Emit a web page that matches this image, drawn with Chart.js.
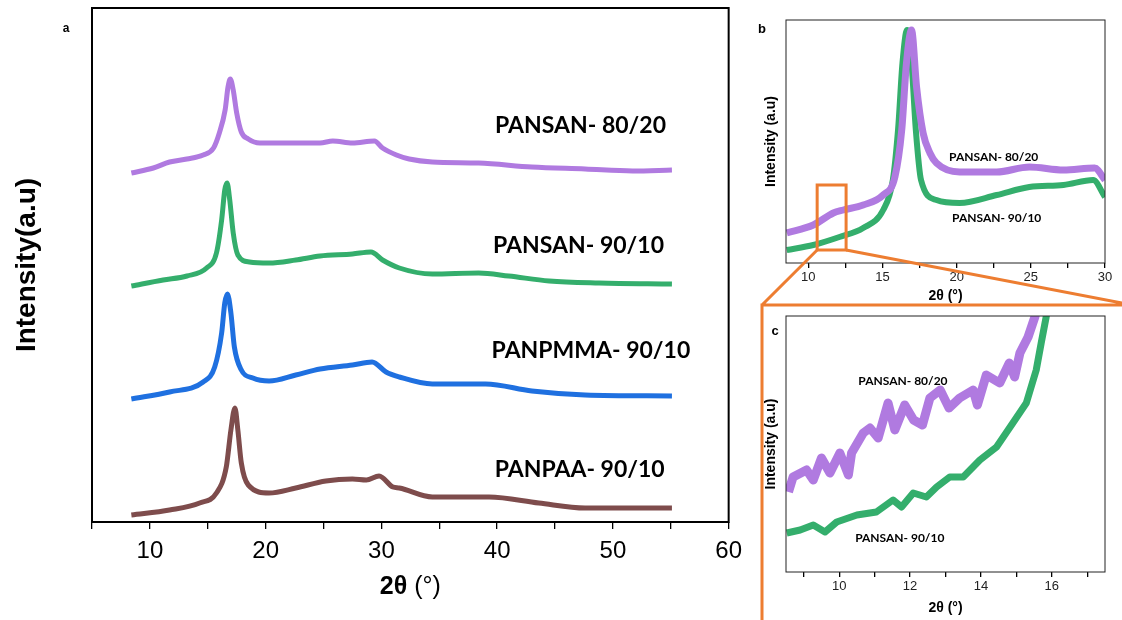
<!DOCTYPE html>
<html>
<head>
<meta charset="utf-8">
<script src="https://cdn.jsdelivr.net/npm/chart.js@4.4.1/dist/chart.umd.min.js"></script>
<style>
  body { margin: 0; background: #fff; width: 1122px; height: 620px; overflow: hidden; position: relative; }
  canvas { position: absolute; }
</style>
</head>
<body>
<canvas id="chartA" width="750" height="620" style="left:0;top:0"></canvas>
<canvas id="chartB" width="372" height="305" style="left:750px;top:0"></canvas>
<canvas id="chartC" width="372" height="313" style="left:750px;top:307px"></canvas>
<canvas id="overlay" width="1122" height="620" style="left:0;top:0;pointer-events:none"></canvas>
<script>
// ---- panel a : full scans, stacked (a.u.) ----
var angA80 = [8.4, 10.3, 11.7, 13.2, 14.6, 15.5, 16.0, 16.5, 16.75, 16.95, 17.2, 17.5, 17.9, 18.5, 19.5, 21.8, 24.7, 25.8, 27.5, 29.4, 30.1, 31.3, 32.4, 34.4, 38.4, 43.0, 47.6, 51.7, 55.1];
var intA80 = [349, 354, 360, 363, 367, 374, 389, 412, 435, 443, 432, 409, 390, 383, 379, 379, 379, 381, 379, 381, 374, 367, 363, 360, 359, 355, 353, 351, 352];
var angA90 = [8.4, 11.15, 13.2, 14.9, 15.75, 16.2, 16.47, 16.67, 16.9, 17.2, 17.6, 18.6, 20.3, 22.6, 24.7, 27.5, 29.1, 30.1, 31.55, 34.4, 38.4, 41.0, 44.5, 48.8, 55.1];
var intA90 = [236, 242, 246, 254, 269, 302, 332, 339, 322, 289, 267, 260, 259, 262, 266, 268, 270, 262, 254, 248, 249, 246, 241, 239, 238];
var angPMMA = [8.4, 11.7, 14.6, 15.6, 16.2, 16.47, 16.7, 17.0, 17.3, 17.9, 18.9, 20.3, 22.6, 24.7, 27.5, 29.2, 30.4, 31.55, 34.4, 39.0, 43.0, 47.6, 55.1];
var intPMMA = [123, 130, 140, 155, 189, 219, 228, 209, 175, 152, 144, 141, 147, 153, 157, 160, 150, 145, 138, 138, 131, 127, 126];
var angPAA = [8.4, 11.7, 14.3, 15.75, 16.6, 17.0, 17.35, 17.6, 17.9, 18.5, 20.3, 22.6, 25.2, 27.5, 28.7, 29.8, 31.0, 31.55, 34.4, 39.3, 43.6, 47.6, 55.1];
var intPAA = [7, 12, 19, 29, 55, 92, 114, 92, 59, 37, 29, 34, 41, 43, 42, 46, 35, 34, 25, 25, 19, 14, 14];
var namesA = ["PANSAN- 80/20", "PANSAN- 90/10", "PANPMMA- 90/10", "PANPAA- 90/10"];
var labelAngA = [47.2, 47.03, 48.1, 47.13];
var labelIntA = [396, 276, 171, 52];
var ticksA = [5, 10, 15, 20, 25, 30, 35, 40, 45, 50, 55, 60];
var tickLabelsA = ["", "10", "", "20", "", "30", "", "40", "", "50", "", "60"];

// ---- panel b : 8.5 - 30 deg ----
var angB80 = [8.55, 10.34, 11.69, 12.36, 13.7, 15.05, 15.84, 16.3, 16.62, 16.96, 17.3, 17.74, 18.2, 18.64, 20.2, 22.7, 24.9, 27.2, 29.3, 30];
var intB80 = [30, 38, 50, 53, 58, 68, 86, 133, 200, 233, 176, 130, 110, 100, 91, 91, 96, 93, 95, 83];
var angB90 = [8.55, 10.34, 12.1, 13.7, 15.05, 15.7, 16.05, 16.35, 16.66, 16.96, 17.25, 17.6, 18.64, 20.2, 22.7, 24.9, 27.2, 29.2, 30];
var intB90 = [13, 18, 26, 35, 53, 83, 133, 200, 233, 200, 133, 83, 63, 60, 68, 76, 78, 83, 66];
var labelAngB = [22.5, 22.7];
var labelIntB = [106, 45];
var zoomBoxAng = [10.6, 12.55];
var zoomBoxInt = [13, 78];
var ticksB = [10, 12.5, 15, 17.5, 20, 22.5, 25, 27.5, 30];
var tickLabelsB = ["10", "", "15", "", "20", "", "25", "", "30"];

// ---- panel c : 8.5 - 17.5 deg ----
var angC80 = [8.57, 8.7, 9.08, 9.27, 9.5, 9.74, 10.02, 10.26, 10.35, 10.68, 10.87, 11.1, 11.38, 11.57, 11.85, 12.1, 12.35, 12.56, 12.85, 13.1, 13.4, 13.78, 13.9, 14.15, 14.53, 14.8, 14.95, 15.1, 15.33, 15.52, 15.65];
var intC80 = [80, 95, 102, 92, 114, 99, 119, 97, 119, 139, 144, 134, 169, 142, 167, 152, 147, 174, 182, 164, 174, 182, 167, 197, 189, 209, 195, 219, 235, 255, 275];
var angC90 = [8.52, 8.9, 9.27, 9.6, 9.93, 10.5, 11.05, 11.52, 11.76, 12.09, 12.46, 12.75, 13.12, 13.5, 13.97, 14.44, 14.9, 15.28, 15.56, 15.7, 15.84, 15.95];
var intC90 = [39, 42, 47, 40, 50, 57, 60, 72, 65, 79, 75, 85, 95, 95, 112, 125, 149, 169, 202, 229, 255, 280];
var labelAngC = [11.8, 11.71];
var labelIntC = [191, 34];
var ticksC = [9, 10, 11, 12, 13, 14, 15, 16, 17];
var tickLabelsC = ["", "10", "", "12", "", "14", "", "16", ""];

var purple = "#B07AE0";
var green = "#34AE6C";
var blue = "#1F70E0";
var brown = "#7E4C4C";
var orange = "#ED7D31";

Chart.defaults.font.family = "'Liberation Sans', Arial, sans-serif";
Chart.defaults.color = "#000";

function pts(xs, ys) {
  var out = [];
  for (var i = 0; i < xs.length; i++) out.push({ x: xs[i], y: ys[i] });
  return out;
}

function series(xs, ys, color, width, smooth) {
  var ds = {
    data: pts(xs, ys),
    borderColor: color,
    backgroundColor: color,
    borderWidth: width,
    pointRadius: 0,
    borderJoinStyle: "round",
    clip: 0
  };
  if (smooth) ds.cubicInterpolationMode = "monotone";
  else ds.tension = 0;
  return ds;
}

// box around the plot, panel letter, 2θ title and text labels
function panelPlugin(cfg) {
  return {
    id: "panel_" + cfg.letter,
    afterDatasetsDraw: function (chart) {
      var ctx = chart.ctx, a = chart.chartArea;
      var xs = chart.scales.x, ys = chart.scales.y;
      ctx.save();
      ctx.strokeStyle = cfg.frameColor;
      ctx.lineWidth = cfg.frameWidth;
      ctx.strokeRect(a.left, a.top, a.right - a.left, a.bottom - a.top);

      ctx.fillStyle = "#000";
      ctx.textBaseline = "middle";
      ctx.textAlign = "center";
      ctx.font = "bold " + cfg.labelSize + "px Lato, 'Open Sans', sans-serif";
      for (var i = 0; i < cfg.names.length; i++) {
        ctx.fillText(cfg.names[i], xs.getPixelForValue(cfg.labelAng[i]), ys.getPixelForValue(cfg.labelInt[i]));
      }

      ctx.font = "bold " + cfg.letterSize + "px 'Liberation Sans', Arial, sans-serif";
      ctx.fillText(cfg.letter, cfg.letterPos[0], cfg.letterPos[1]);

      var cx = (a.left + a.right) / 2;
      var fb = "bold " + cfg.titleSize + "px 'Liberation Sans', Arial, sans-serif";
      var fr = cfg.titleRegular + " " + cfg.titleSize + "px 'Liberation Sans', Arial, sans-serif";
      ctx.font = fb;
      var w1 = ctx.measureText("2θ").width;
      ctx.font = fr;
      var w2 = ctx.measureText(" (°)").width;
      var x0 = cx - (w1 + w2) / 2;
      ctx.textAlign = "left";
      ctx.font = fb;
      ctx.fillText("2θ", x0, cfg.titleY);
      ctx.font = fr;
      ctx.fillText(" (°)", x0 + w1, cfg.titleY);

      if (cfg.zoomBox) {
        var l = xs.getPixelForValue(cfg.zoomBox.ang[0]), r = xs.getPixelForValue(cfg.zoomBox.ang[1]);
        var t = ys.getPixelForValue(cfg.zoomBox.int[1]), b = ys.getPixelForValue(cfg.zoomBox.int[0]);
        ctx.strokeStyle = orange;
        ctx.lineWidth = 3;
        ctx.strokeRect(l, t, r - l, b - t);
      }
      ctx.restore();
    }
  };
}

function xAxis(min, max, tickVals, tickLabels, fontSize, pad, height, tickLen, tickColor) {
  return {
    type: "linear",
    min: min,
    max: max,
    afterBuildTicks: function (s) {
      s.ticks = tickVals.map(function (v) { return { value: v }; });
    },
    afterFit: function (s) { s.height = height; },
    ticks: {
      autoSkip: false,
      maxRotation: 0,
      padding: pad,
      color: tickColor,
      font: { size: fontSize },
      callback: function (v, i) { return tickLabels[i]; }
    },
    grid: { drawOnChartArea: false, drawTicks: true, tickLength: tickLen, color: "#000", lineWidth: 1.3 },
    border: { display: false }
  };
}

function yAxis(max, title, size, width, titlePad) {
  return {
    min: 0,
    max: max,
    afterFit: function (s) { s.width = width; },
    ticks: { display: false },
    grid: { display: false },
    border: { display: false },
    title: { display: true, text: title, font: { size: size, weight: "bold" }, padding: { top: titlePad, bottom: 0 } }
  };
}

var baseOptions = {
  responsive: false,
  animation: false,
  plugins: { legend: { display: false }, tooltip: { enabled: false } }
};

var chartA = new Chart(document.getElementById("chartA"), {
  type: "line",
  data: {
    datasets: [
      series(angA80, intA80, purple, 5, true),
      series(angA90, intA90, green, 5, true),
      series(angPMMA, intPMMA, blue, 5, true),
      series(angPAA, intPAA, brown, 5, true)
    ]
  },
  options: Object.assign({}, baseOptions, {
    layout: { padding: { left: 0, top: 8, right: 20, bottom: 0 } },
    scales: {
      x: xAxis(5, 60, ticksA, tickLabelsA, 24, 8, 98, 7, "#000"),
      y: yAxis(514, "Intensity(a.u)", 28, 92, 10)
    }
  }),
  plugins: [panelPlugin({
    letter: "a", letterPos: [66, 29], letterSize: 12,
    names: namesA, labelAng: labelAngA, labelInt: labelIntA, labelSize: 23,
    frameColor: "#000", frameWidth: 2,
    titleSize: 25, titleY: 587, titleRegular: "normal"
  })]
});

var chartB = new Chart(document.getElementById("chartB"), {
  type: "line",
  data: {
    datasets: [
      series(angB80, intB80, purple, 7, true),
      series(angB90, intB90, green, 6, true)
    ]
  },
  options: Object.assign({}, baseOptions, {
    layout: { padding: { left: 0, top: 20, right: 17, bottom: 0 } },
    scales: {
      x: xAxis(8.5, 30, ticksB, tickLabelsB, 13, 2, 42, 5, "#222"),
      y: yAxis(243, "Intensity (a.u)", 14, 36, 12.6)
    }
  }),
  plugins: [panelPlugin({
    letter: "b", letterPos: [12, 29], letterSize: 13,
    names: ["PANSAN- 80/20", "PANSAN- 90/10"], labelAng: labelAngB, labelInt: labelIntB, labelSize: 12,
    frameColor: "#222", frameWidth: 1,
    titleSize: 14, titleY: 296, titleRegular: "bold",
    zoomBox: { ang: zoomBoxAng, int: zoomBoxInt }
  })]
});

var chartC = new Chart(document.getElementById("chartC"), {
  type: "line",
  data: {
    datasets: [
      series(angC80, intC80, purple, 9, false),
      series(angC90, intC90, green, 7, false)
    ]
  },
  options: Object.assign({}, baseOptions, {
    layout: { padding: { left: 0, top: 9, right: 17, bottom: 0 } },
    scales: {
      x: xAxis(8.5, 17.5, ticksC, tickLabelsC, 13, 2, 48, 5, "#222"),
      y: yAxis(256, "Intensity (a.u)", 14, 36, 12.3)
    }
  }),
  plugins: [panelPlugin({
    letter: "c", letterPos: [25, 24], letterSize: 13,
    names: ["PANSAN- 80/20", "PANSAN- 90/10"], labelAng: labelAngC, labelInt: labelIntC, labelSize: 12,
    frameColor: "#222", frameWidth: 1,
    titleSize: 14, titleY: 301, titleRegular: "bold"
  })]
});

// orange zoom connectors and frame round panel c
var ov = document.getElementById("overlay").getContext("2d");
var bx = chartB.scales.x, by = chartB.scales.y;
var boxL = 750 + bx.getPixelForValue(zoomBoxAng[0]);
var boxR = 750 + bx.getPixelForValue(zoomBoxAng[1]);
var boxB = by.getPixelForValue(zoomBoxInt[0]);
var frameL = 762, frameT = 305;
ov.strokeStyle = orange;
ov.lineWidth = 3;
ov.beginPath();
ov.moveTo(boxL, boxB); ov.lineTo(frameL, frameT);
ov.moveTo(boxR, boxB); ov.lineTo(1122, frameT - 2);
ov.moveTo(frameL, 620); ov.lineTo(frameL, frameT); ov.lineTo(1122, frameT);
ov.stroke();
</script>
</body>
</html>
